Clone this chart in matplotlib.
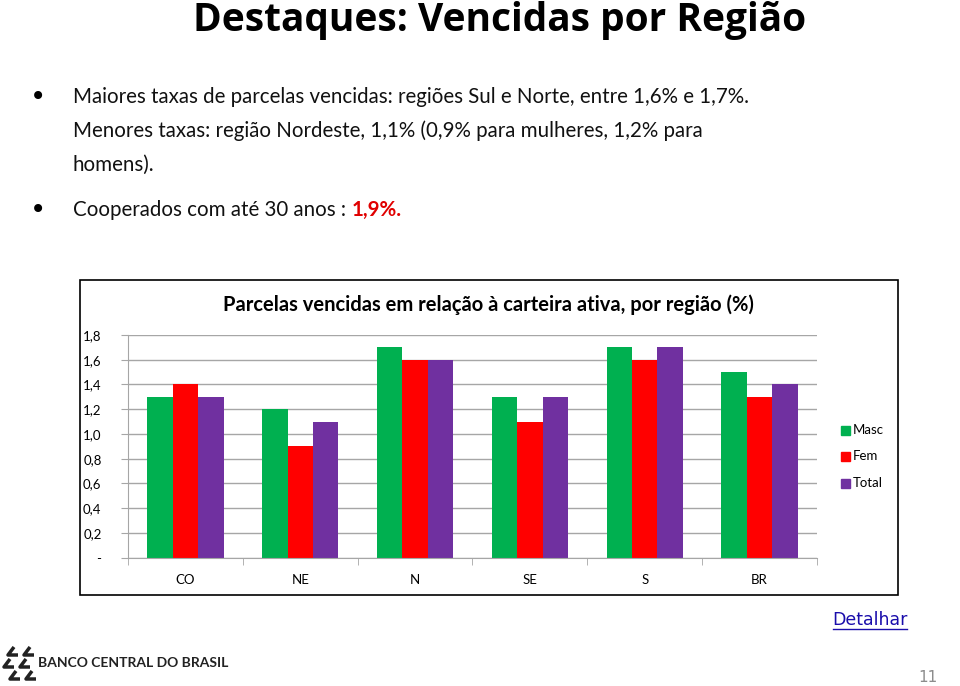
import matplotlib.pyplot as plt
import numpy as np
from matplotlib.patches import Rectangle

regioes = ["CO", "NE", "N", "SE", "S", "BR"]
masc = [1.3, 1.2, 1.7, 1.3, 1.7, 1.5]
fem = [1.4, 0.9, 1.6, 1.1, 1.6, 1.3]
total = [1.3, 1.1, 1.6, 1.3, 1.7, 1.4]
series = [("Masc", masc, "#00B050"), ("Fem", fem, "#FF0000"), ("Total", total, "#7030A0")]
yticks = [0, 0.2, 0.4, 0.6, 0.8, 1.0, 1.2, 1.4, 1.6, 1.8]
ytick_labels = ["-", "0,2", "0,4", "0,6", "0,8", "1,0", "1,2", "1,4", "1,6", "1,8"]

W, H = 960, 686
fig = plt.figure(figsize=(W / 100, H / 100), dpi=100)

# overlay in pixel coordinates for the slide decoration
bg = fig.add_axes([0, 0, 1, 1])
bg.set_xlim(0, W)
bg.set_ylim(H, 0)
bg.axis("off")

sfont = "Open Sans"
cfont = "Lato"

bg.text(500, 20, "Destaques: Vencidas por Região", ha="center", va="center",
        fontsize=28, weight="bold", family=sfont)

bfont = "Lato"
bsize = 14.8
linhas = [(97, "Maiores taxas de parcelas vencidas: regiões Sul e Norte, entre 1,6% e 1,7%.", True),
          (131, "Menores taxas: região Nordeste, 1,1% (0,9% para mulheres, 1,2% para", False),
          (165, "homens).", False)]
for y, s, bullet in linhas:
    if bullet:
        bg.text(38, y, "•", ha="center", va="center", fontsize=20, family="DejaVu Sans")
    bg.text(73, y, s, ha="left", va="center", fontsize=bsize, family=bfont, color="#111111")

bg.text(38, 210, "•", ha="center", va="center", fontsize=20, family="DejaVu Sans")
t = bg.text(73, 210, "Cooperados com até 30 anos : ", ha="left", va="center",
            fontsize=bsize, family=bfont, color="#111111")
fig.canvas.draw()
bb = t.get_window_extent().transformed(bg.transData.inverted())
bg.text(bb.x1, 210, "1,9%.", ha="left", va="center", fontsize=bsize, family=bfont,
        weight="bold", color="#E00000")

# chart frame
bg.add_patch(Rectangle((80, 280), 818, 315, fill=False, edgecolor="black", lw=1.2))
bg.text(488, 305, "Parcelas vencidas em relação à carteira ativa, por região (%)",
        ha="center", va="center", fontsize=14.5, weight="bold", family=cfont)

# legend
for i, (nome, _, cor) in enumerate(series):
    y = 430 + i * 26.5
    bg.add_patch(Rectangle((841, y - 4.5), 9, 9, color=cor))
    bg.text(853, y, nome, ha="left", va="center", fontsize=9.5, family=cfont)

# footer
bg.text(870, 620, "Detalhar", ha="center", va="center", fontsize=12.5,
        family="DejaVu Sans", color="#1A0DAB")
bg.plot([833, 907], [629, 629], color="#1A0DAB", lw=1)
bg.text(928, 678, "11", ha="center", va="center", fontsize=11, color="#8C8C8C",
        family="DejaVu Sans")
bg.text(38, 663, "BANCO CENTRAL DO BRASIL", ha="left", va="center", fontsize=10,
        weight="bold", family="Lato", color="#222222")
for dx, dy in [(8, 652), (24, 652), (4, 664), (20, 664), (10, 676), (26, 676)]:
    bg.plot([dx + 6, dx, dx + 10], [dy - 5, dy + 3, dy + 3], color="#222222",
            lw=2.5, solid_capstyle="butt")

# bar chart
ax = fig.add_axes([128 / W, 1 - 557.7 / H, (817 - 128) / W, (557.7 - 335) / H])
x = np.arange(len(regioes))
bw = 0.222
for i, (nome, vals, cor) in enumerate(series):
    ax.bar(x + (i - 1) * bw, vals, width=bw, color=cor, label=nome)

ax.set_xlim(-0.5, len(regioes) - 0.5)
ax.set_ylim(0, 1.8)
ax.set_yticks(yticks)
ax.set_yticklabels(ytick_labels, family=cfont, fontsize=9.5)
ax.yaxis.grid(True, color="#A6A6A6", lw=1)
ax.set_axisbelow(True)
ax.set_xticks(x)
ax.set_xticklabels(regioes, family=cfont, fontsize=9.5)
ax.set_xticks(np.arange(len(regioes) + 1) - 0.5, minor=True)
ax.tick_params(axis="x", which="major", length=0, pad=12)
ax.tick_params(axis="x", which="minor", length=5, color="#A6A6A6", direction="out")
ax.tick_params(axis="y", length=5, color="#A6A6A6", pad=14)
for s in ["top", "right"]:
    ax.spines[s].set_visible(False)
for s in ["left", "bottom"]:
    ax.spines[s].set_color("#A6A6A6")
ax.patch.set_alpha(0)

fig.savefig("out.png", dpi=100)
